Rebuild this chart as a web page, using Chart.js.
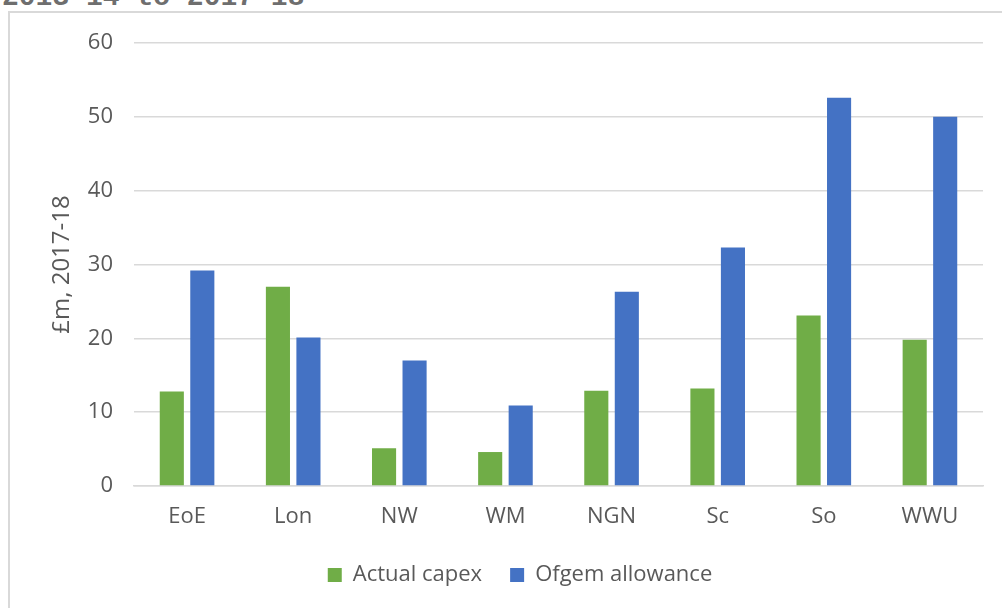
<!DOCTYPE html>
<html>
<head>
<meta charset="utf-8">
<script src="https://cdn.jsdelivr.net/npm/chart.js@4/dist/chart.umd.min.js"></script>
<style>
  html, body { margin: 0; padding: 0; background: #ffffff; overflow: hidden; }
  #wrap { position: relative; width: 1002px; height: 608px; overflow: hidden; }
  #heading {
    position: absolute; left: 2px; top: -16px; margin: 0;
    font: bold 28px/28px "Liberation Mono", "DejaVu Sans Mono", monospace;
    color: #6e6e6e; white-space: nowrap;
  }
  #frame {
    position: absolute; left: 8px; top: 11px; width: 1100px; height: 700px;
    border: 2px solid #d9d9d9; box-sizing: border-box;
  }
  #chart { position: absolute; left: 0; top: 0; }
</style>
</head>
<body>
<div id="wrap">
  <div id="heading">2013-14 to 2017-18</div>
  <div id="frame"></div>
  <canvas id="chart" width="1002" height="608"></canvas>
</div>
<script>
// Gas distribution networks and their capex figures (£m, 2017-18 prices)
const categories = ['EoE', 'Lon', 'NW', 'WM', 'NGN', 'Sc', 'So', 'WWU'];
const actualCapex = [12.8, 27.0, 5.1, 4.6, 12.9, 13.2, 23.1, 19.8];
const ofgemAllowance = [29.2, 20.1, 17.0, 10.9, 26.3, 32.3, 52.6, 50.0];
const yTicks = [0, 10, 20, 30, 40, 50, 60];
const yTitle = '£m, 2017-18';

const FONT = '"Open Sans", "Noto Sans", sans-serif';
const SIZE = 22;
const TITLE_SIZE = 24;
const TEXT = '#595959';
const GRID = '#d9d9d9';

// Rotated y-axis caption, centred on the plot height
const yTitlePlugin = {
  id: 'yTitle',
  afterDraw(chart) {
    const {ctx, chartArea} = chart;
    ctx.save();
    ctx.translate(62, (chartArea.top + chartArea.bottom) / 2);
    ctx.rotate(-Math.PI / 2);
    ctx.font = TITLE_SIZE + 'px ' + FONT;
    ctx.fillStyle = TEXT;
    ctx.textAlign = 'center';
    ctx.textBaseline = 'middle';
    ctx.fillText(yTitle, 0, 0);
    ctx.restore();
  }
};

new Chart(document.getElementById('chart'), {
  type: 'bar',
  data: {
    labels: categories,
    datasets: [
      { label: 'Actual capex', data: actualCapex, backgroundColor: '#70ad47' },
      { label: 'Ofgem allowance', data: ofgemAllowance, backgroundColor: '#4472c4' }
    ]
  },
  options: {
    responsive: false,
    animation: false,
    devicePixelRatio: 1,
    layout: { padding: { left: 57, right: 19, top: 43, bottom: 12 } },
    datasets: { bar: { categoryPercentage: 0.575, barPercentage: 0.79, borderWidth: 0 } },
    scales: {
      x: {
        grid: { display: false, drawTicks: false },
        border: { display: true, color: GRID, width: 1.5 },
        ticks: { color: TEXT, font: { family: FONT, size: SIZE }, padding: 18, maxRotation: 0 },
        afterFit(scale) { scale.height = 50; }
      },
      y: {
        min: 0, max: 60,
        afterBuildTicks(scale) { scale.ticks = yTicks.map(v => ({ value: v })); },
        grid: { color: GRID, lineWidth: 1.5, drawTicks: false },
        border: { display: false },
        ticks: { color: TEXT, font: { family: FONT, size: SIZE }, padding: 21 },
        afterFit(scale) { scale.width = 77; }
      }
    },
    plugins: {
      legend: {
        position: 'bottom',
        labels: {
          color: TEXT,
          font: { family: FONT, size: SIZE },
          boxWidth: 14, boxHeight: 14,
          padding: 28
        }
      },
      tooltip: { enabled: false }
    }
  },
  plugins: [yTitlePlugin]
});
</script>
</body>
</html>
